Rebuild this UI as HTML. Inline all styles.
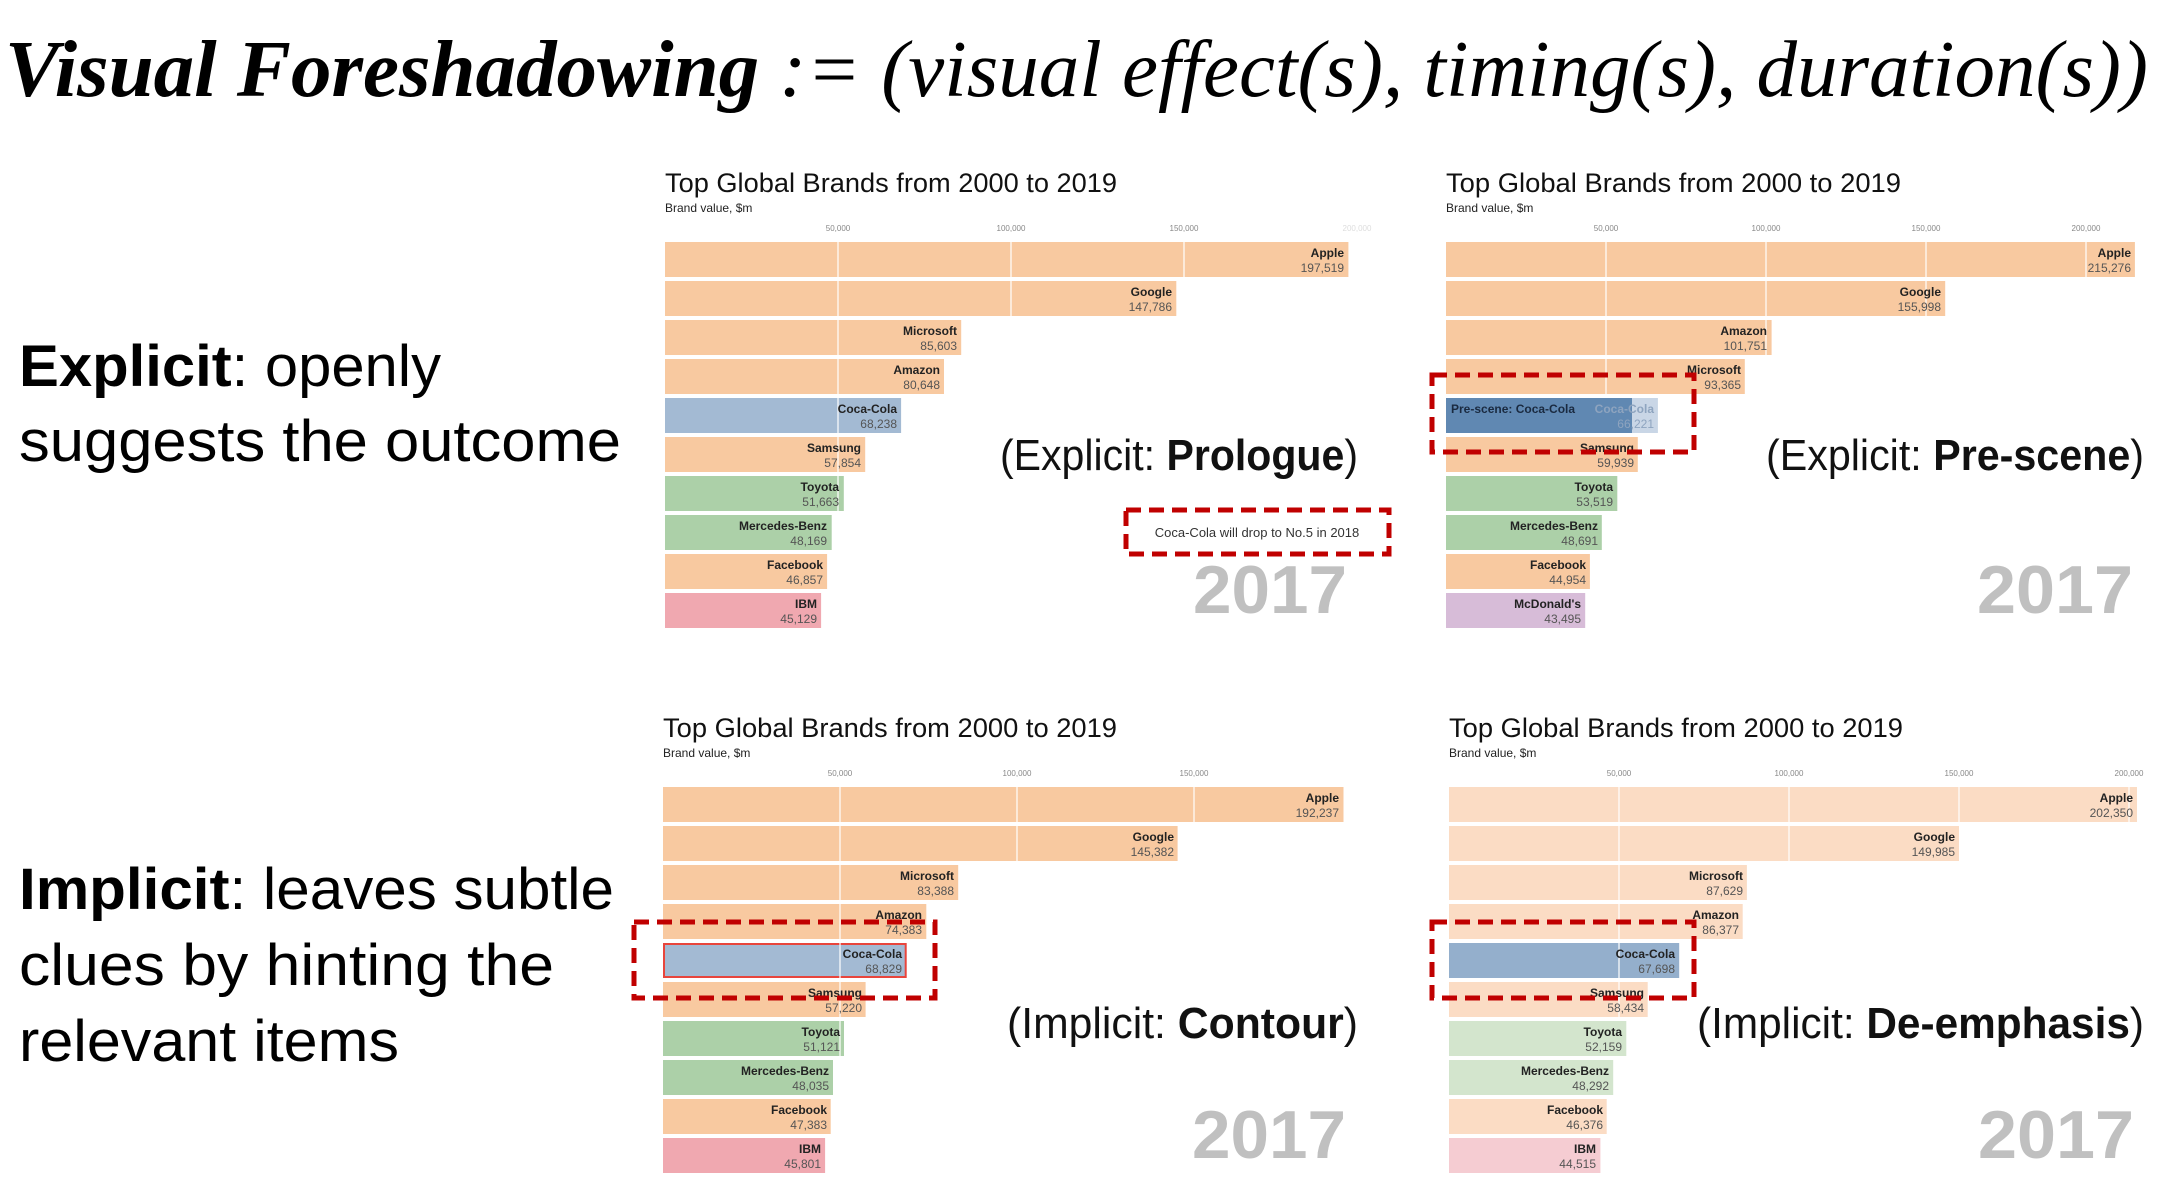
<!DOCTYPE html>
<html><head><meta charset="utf-8"><style>
html,body{margin:0;padding:0;background:#fff;}
svg{display:block;}
.t{font-family:"Liberation Sans",sans-serif;}
.ct{font-size:27px;fill:#111;}
.st{font-size:12px;fill:#222;}
.tk{font-size:8px;fill:#888;text-anchor:middle;}
.n{font-size:12px;font-weight:bold;fill:#222;text-anchor:end;}
.v{font-size:12px;fill:#555;text-anchor:end;}
.yr{font-size:68px;font-weight:bold;fill:#c0c0c0;}
.lab{font-size:44px;fill:#111;}
.side{font-size:58px;fill:#000;}
.box{fill:none;stroke:#c00000;stroke-width:5;stroke-dasharray:15 8;}
</style></head><body>
<svg width="2160" height="1200" viewBox="0 0 2160 1200" xmlns="http://www.w3.org/2000/svg">
<text x="5" y="96" textLength="2143" lengthAdjust="spacingAndGlyphs" style="font-family:'Liberation Serif',serif;font-style:italic;font-size:80px;fill:#000"><tspan font-weight="bold">Visual Foreshadowing</tspan> := (visual effect(s), timing(s), duration(s))</text>

<text class="t side" x="19" y="386" textLength="422" lengthAdjust="spacingAndGlyphs"><tspan font-weight="bold">Explicit</tspan>: openly</text>
<text class="t side" x="19" y="461" textLength="602" lengthAdjust="spacingAndGlyphs">suggests the outcome</text>
<text class="t side" x="19" y="909" textLength="595" lengthAdjust="spacingAndGlyphs"><tspan font-weight="bold">Implicit</tspan>: leaves subtle</text>
<text class="t side" x="19" y="985" textLength="535" lengthAdjust="spacingAndGlyphs">clues by hinting the</text>
<text class="t side" x="19" y="1061" textLength="380" lengthAdjust="spacingAndGlyphs">relevant items</text>

<!-- Chart 1 -->
<g class="t">
<text class="ct" x="665" y="192" textLength="452" lengthAdjust="spacingAndGlyphs">Top Global Brands from 2000 to 2019</text>
<text class="st" x="665" y="212">Brand value, $m</text>
<text class="tk" x="838" y="231">50,000</text><text class="tk" x="1011" y="231">100,000</text><text class="tk" x="1184" y="231">150,000</text><text class="tk" x="1357" y="231" style="fill:#ddd">200,000</text>
<rect x="665" y="242" width="683.4" height="35" fill="#f8c9a0"/>
<rect x="665" y="281" width="511.3" height="35" fill="#f8c9a0"/>
<rect x="665" y="320" width="296.2" height="35" fill="#f8c9a0"/>
<rect x="665" y="359" width="279" height="35" fill="#f8c9a0"/>
<rect x="665" y="398" width="236.1" height="35" fill="#a3bad3"/>
<rect x="665" y="437" width="200.2" height="35" fill="#f8c9a0"/>
<rect x="665" y="476" width="178.8" height="35" fill="#acd0a8"/>
<rect x="665" y="515" width="166.7" height="35" fill="#acd0a8"/>
<rect x="665" y="554" width="162.1" height="35" fill="#f8c9a0"/>
<rect x="665" y="593" width="156.1" height="35" fill="#f0a8b0"/>
<g stroke="#fff" stroke-width="1.2"><line x1="838" y1="242" x2="838" y2="628"/><line x1="1011" y1="242" x2="1011" y2="628"/><line x1="1184" y1="242" x2="1184" y2="628"/></g>
<text class="n" x="1344" y="257">Apple</text><text class="v" x="1344" y="272">197,519</text>
<text class="n" x="1172" y="296">Google</text><text class="v" x="1172" y="311">147,786</text>
<text class="n" x="957" y="335">Microsoft</text><text class="v" x="957" y="350">85,603</text>
<text class="n" x="940" y="374">Amazon</text><text class="v" x="940" y="389">80,648</text>
<text class="n" x="897" y="413">Coca-Cola</text><text class="v" x="897" y="428">68,238</text>
<text class="n" x="861" y="452">Samsung</text><text class="v" x="861" y="467">57,854</text>
<text class="n" x="839" y="491">Toyota</text><text class="v" x="839" y="506">51,663</text>
<text class="n" x="827" y="530">Mercedes-Benz</text><text class="v" x="827" y="545">48,169</text>
<text class="n" x="823" y="569">Facebook</text><text class="v" x="823" y="584">46,857</text>
<text class="n" x="817" y="608">IBM</text><text class="v" x="817" y="623">45,129</text>
<text class="lab" x="1000" y="470" textLength="358" lengthAdjust="spacingAndGlyphs">(Explicit: <tspan font-weight="bold">Prologue</tspan>)</text>
<rect class="box" x="1126" y="510" width="263" height="44"/>
<text x="1257" y="537" text-anchor="middle" style="font-size:13px;fill:#333">Coca-Cola will drop to No.5 in 2018</text>
<text class="yr" x="1193" y="613" textLength="154" lengthAdjust="spacingAndGlyphs">2017</text>
</g>

<!-- Chart 2 -->
<g class="t">
<text class="ct" x="1446" y="192" textLength="455" lengthAdjust="spacingAndGlyphs">Top Global Brands from 2000 to 2019</text>
<text class="st" x="1446" y="212">Brand value, $m</text>
<text class="tk" x="1606" y="231">50,000</text><text class="tk" x="1766" y="231">100,000</text><text class="tk" x="1926" y="231">150,000</text><text class="tk" x="2086" y="231">200,000</text>
<rect x="1446" y="242" width="688.9" height="35" fill="#f8c9a0"/>
<rect x="1446" y="281" width="499.2" height="35" fill="#f8c9a0"/>
<rect x="1446" y="320" width="325.6" height="35" fill="#f8c9a0"/>
<rect x="1446" y="359" width="298.8" height="35" fill="#f8c9a0"/>
<rect x="1446" y="398" width="211.9" height="35" fill="#c9d6e6"/>
<rect x="1446" y="398" width="186" height="35" fill="#6088b2"/>
<rect x="1446" y="437" width="191.8" height="35" fill="#f8c9a0"/>
<rect x="1446" y="476" width="171.3" height="35" fill="#acd0a8"/>
<rect x="1446" y="515" width="155.8" height="35" fill="#acd0a8"/>
<rect x="1446" y="554" width="143.9" height="35" fill="#f8c9a0"/>
<rect x="1446" y="593" width="139.2" height="35" fill="#d7bcd8"/>
<g stroke="#fff" stroke-width="1.2"><line x1="1606" y1="242" x2="1606" y2="394"/><line x1="1766" y1="242" x2="1766" y2="355"/><line x1="1926" y1="242" x2="1926" y2="316"/><line x1="2086" y1="242" x2="2086" y2="277"/></g>
<text class="n" x="2131" y="257">Apple</text><text class="v" x="2131" y="272">215,276</text>
<text class="n" x="1941" y="296">Google</text><text class="v" x="1941" y="311">155,998</text>
<text class="n" x="1767" y="335">Amazon</text><text class="v" x="1767" y="350">101,751</text>
<text class="n" x="1741" y="374">Microsoft</text><text class="v" x="1741" y="389">93,365</text>
<text x="1451" y="413" style="font-size:12px;font-weight:bold;fill:#1a2a40">Pre-scene: Coca-Cola</text>
<text class="n" x="1654" y="413" style="fill:#8ea4bf">Coca-Cola</text><text class="v" x="1654" y="428" style="fill:#8ea4bf">66,221</text>
<text class="n" x="1634" y="452">Samsung</text><text class="v" x="1634" y="467">59,939</text>
<text class="n" x="1613" y="491">Toyota</text><text class="v" x="1613" y="506">53,519</text>
<text class="n" x="1598" y="530">Mercedes-Benz</text><text class="v" x="1598" y="545">48,691</text>
<text class="n" x="1586" y="569">Facebook</text><text class="v" x="1586" y="584">44,954</text>
<text class="n" x="1581" y="608">McDonald's</text><text class="v" x="1581" y="623">43,495</text>
<rect class="box" x="1432" y="375" width="262" height="77"/>
<text class="lab" x="1766" y="470" textLength="378" lengthAdjust="spacingAndGlyphs">(Explicit: <tspan font-weight="bold">Pre-scene</tspan>)</text>
<text class="yr" x="1977" y="613" textLength="156" lengthAdjust="spacingAndGlyphs">2017</text>
</g>

<!-- Chart 3 -->
<g class="t">
<text class="ct" x="663" y="737" textLength="454" lengthAdjust="spacingAndGlyphs">Top Global Brands from 2000 to 2019</text>
<text class="st" x="663" y="757">Brand value, $m</text>
<text class="tk" x="840" y="776">50,000</text><text class="tk" x="1017" y="776">100,000</text><text class="tk" x="1194" y="776">150,000</text>
<rect x="663" y="787" width="680.5" height="35" fill="#f8c9a0"/>
<rect x="663" y="826" width="514.6" height="35" fill="#f8c9a0"/>
<rect x="663" y="865" width="295.2" height="35" fill="#f8c9a0"/>
<rect x="663" y="904" width="263.3" height="35" fill="#f8c9a0"/>
<rect x="664" y="944" width="241.7" height="33" fill="#a3bad3" stroke="#e8453c" stroke-width="2"/>
<rect x="663" y="982" width="202.6" height="35" fill="#f8c9a0"/>
<rect x="663" y="1021" width="181" height="35" fill="#acd0a8"/>
<rect x="663" y="1060" width="170" height="35" fill="#acd0a8"/>
<rect x="663" y="1099" width="167.7" height="35" fill="#f8c9a0"/>
<rect x="663" y="1138" width="162.1" height="35" fill="#f0a8b0"/>
<g stroke="#fff" stroke-width="1.2"><line x1="840" y1="787" x2="840" y2="1056"/><line x1="1017" y1="787" x2="1017" y2="861"/><line x1="1194" y1="787" x2="1194" y2="822"/></g>
<text class="n" x="1339" y="802">Apple</text><text class="v" x="1339" y="817">192,237</text>
<text class="n" x="1174" y="841">Google</text><text class="v" x="1174" y="856">145,382</text>
<text class="n" x="954" y="880">Microsoft</text><text class="v" x="954" y="895">83,388</text>
<text class="n" x="922" y="919">Amazon</text><text class="v" x="922" y="934">74,383</text>
<text class="n" x="902" y="958">Coca-Cola</text><text class="v" x="902" y="973">68,829</text>
<text class="n" x="862" y="997">Samsung</text><text class="v" x="862" y="1012">57,220</text>
<text class="n" x="840" y="1036">Toyota</text><text class="v" x="840" y="1051">51,121</text>
<text class="n" x="829" y="1075">Mercedes-Benz</text><text class="v" x="829" y="1090">48,035</text>
<text class="n" x="827" y="1114">Facebook</text><text class="v" x="827" y="1129">47,383</text>
<text class="n" x="821" y="1153">IBM</text><text class="v" x="821" y="1168">45,801</text>
<rect class="box" x="634" y="922" width="301" height="76"/>
<text class="lab" x="1007" y="1038" textLength="351" lengthAdjust="spacingAndGlyphs">(Implicit: <tspan font-weight="bold">Contour</tspan>)</text>
<text class="yr" x="1192" y="1158" textLength="154" lengthAdjust="spacingAndGlyphs">2017</text>
</g>

<!-- Chart 4 -->
<g class="t">
<text class="ct" x="1449" y="737" textLength="454" lengthAdjust="spacingAndGlyphs">Top Global Brands from 2000 to 2019</text>
<text class="st" x="1449" y="757">Brand value, $m</text>
<text class="tk" x="1619" y="776">50,000</text><text class="tk" x="1789" y="776">100,000</text><text class="tk" x="1959" y="776">150,000</text><text class="tk" x="2129" y="776">200,000</text>
<rect x="1449" y="787" width="688" height="35" fill="#fbdcc4"/>
<rect x="1449" y="826" width="510" height="35" fill="#fbdcc4"/>
<rect x="1449" y="865" width="297.9" height="35" fill="#fbdcc4"/>
<rect x="1449" y="904" width="293.7" height="35" fill="#fbdcc4"/>
<rect x="1449" y="943" width="230.2" height="35" fill="#94afcc"/>
<rect x="1449" y="982" width="198.7" height="35" fill="#fbdcc4"/>
<rect x="1449" y="1021" width="177.3" height="35" fill="#d3e5cd"/>
<rect x="1449" y="1060" width="164.2" height="35" fill="#d3e5cd"/>
<rect x="1449" y="1099" width="157.7" height="35" fill="#fbdcc4"/>
<rect x="1449" y="1138" width="151.4" height="35" fill="#f5ccd2"/>
<g stroke="#fff" stroke-width="1.2"><line x1="1619" y1="787" x2="1619" y2="1017"/><line x1="1789" y1="787" x2="1789" y2="861"/><line x1="1959" y1="787" x2="1959" y2="822"/><line x1="2129" y1="787" x2="2129" y2="822"/></g>
<text class="n" x="2133" y="802">Apple</text><text class="v" x="2133" y="817">202,350</text>
<text class="n" x="1955" y="841">Google</text><text class="v" x="1955" y="856">149,985</text>
<text class="n" x="1743" y="880">Microsoft</text><text class="v" x="1743" y="895">87,629</text>
<text class="n" x="1739" y="919">Amazon</text><text class="v" x="1739" y="934">86,377</text>
<text class="n" x="1675" y="958">Coca-Cola</text><text class="v" x="1675" y="973">67,698</text>
<text class="n" x="1644" y="997">Samsung</text><text class="v" x="1644" y="1012">58,434</text>
<text class="n" x="1622" y="1036">Toyota</text><text class="v" x="1622" y="1051">52,159</text>
<text class="n" x="1609" y="1075">Mercedes-Benz</text><text class="v" x="1609" y="1090">48,292</text>
<text class="n" x="1603" y="1114">Facebook</text><text class="v" x="1603" y="1129">46,376</text>
<text class="n" x="1596" y="1153">IBM</text><text class="v" x="1596" y="1168">44,515</text>
<rect class="box" x="1432" y="922" width="262" height="76"/>
<text class="lab" x="1697" y="1038" textLength="447" lengthAdjust="spacingAndGlyphs">(Implicit: <tspan font-weight="bold">De-emphasis</tspan>)</text>
<text class="yr" x="1978" y="1158" textLength="156" lengthAdjust="spacingAndGlyphs">2017</text>
</g>
</svg>
</body></html>
